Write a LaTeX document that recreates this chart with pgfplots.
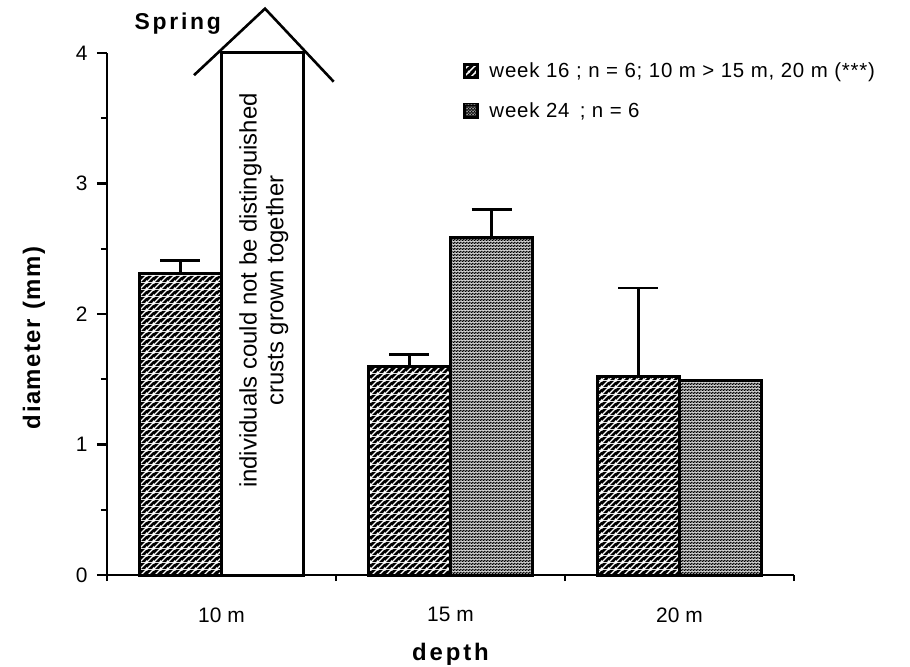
\documentclass[border=0pt]{standalone}
\usepackage{fontspec}
\setmainfont{Liberation Sans}
\newfontfamily\spacedfont[LetterSpace=12]{Liberation Sans}
\newfontfamily\ylabelfont[LetterSpace=6]{Liberation Sans}
\newfontfamily\legendfont[LetterSpace=4]{Liberation Sans}
\usepackage{pgfplots}
\pgfplotsset{compat=1.18}
\usetikzlibrary{patterns}

% black ground with white diagonal lines
\pgfdeclarepatterninherentlycolored{hatchBW}{\pgfpointorigin}{\pgfpoint{7bp}{7bp}}{\pgfpoint{7bp}{7bp}}{%
  \pgfsetfillcolor{black}%
  \pgfpathrectangle{\pgfpointorigin}{\pgfpoint{7bp}{7bp}}\pgfusepath{fill}%
  \pgfsetstrokecolor{white}\pgfsetlinewidth{1.5bp}%
  \pgfpathmoveto{\pgfpoint{-1bp}{-1bp}}\pgfpathlineto{\pgfpoint{8bp}{8bp}}%
  \pgfpathmoveto{\pgfpoint{-1bp}{6bp}}\pgfpathlineto{\pgfpoint{1bp}{8bp}}%
  \pgfpathmoveto{\pgfpoint{6bp}{-1bp}}\pgfpathlineto{\pgfpoint{8bp}{1bp}}%
  \pgfusepath{stroke}}
% grey ground with a fine black stipple
\pgfdeclarepatterninherentlycolored{stippleBW}{\pgfpointorigin}{\pgfpoint{3bp}{3bp}}{\pgfpoint{3bp}{3bp}}{%
  \pgfsetfillcolor{black!40}%
  \pgfpathrectangle{\pgfpointorigin}{\pgfpoint{3bp}{3bp}}\pgfusepath{fill}%
  \pgfsetfillcolor{black}%
  \pgfpathcircle{\pgfpoint{0.75bp}{0.75bp}}{0.95bp}%
  \pgfpathcircle{\pgfpoint{2.25bp}{2.25bp}}{0.95bp}%
  \pgfusepath{fill}}

\begin{document}
\begin{tikzpicture}
\begin{axis}[
  scale only axis, width=687bp, height=522bp,
  xmin=-0.5, xmax=2.5, ymin=0, ymax=4,
  clip=false,
  axis x line*=bottom, axis y line*=left,
  axis line style={line width=2.6bp},
  tick align=outside,
  major tick length=10bp, minor tick length=6bp,
  every tick/.style={black, line width=2.2bp},
  ytick={0,1,2,3,4}, minor ytick={0.5,1.5,2.5,3.5},
  xtick={0,1,2}, xticklabels={10 m,15 m,20 m},
  major x tick style={draw=none},
  minor xtick={-0.5,0.5,1.5,2.5},
  tick label style={font=\fontsize{21}{25}\selectfont},
  /pgf/number format/assume math mode=true,
  xticklabel style={yshift=-19bp},
  yticklabel style={xshift=-6bp},
  xlabel={\spacedfont\bfseries depth},
  ylabel={\ylabelfont\bfseries diameter\hspace{0.4em}(mm)},
  label style={font=\fontsize{24}{28}\selectfont},
  xlabel style={yshift=-14bp},
  ylabel style={yshift=24bp, xshift=-24bp},
  ybar, bar width=0.36,
  legend style={draw=none, fill=none, at={(0.518,0.985)}, anchor=north west,
    font=\legendfont\fontsize{20.5}{24}\selectfont, row sep=19bp, inner sep=0pt,
    /tikz/every odd column/.append style={column sep=9bp}},
  legend cell align=left,
]
\addlegendimage{legend image code/.code={
  \fill[black] (0bp,-7.5bp) rectangle (15bp,7.5bp);
  \fill[pattern=hatchBW] (2bp,-5.5bp) rectangle (13bp,5.5bp);}}
\addlegendimage{legend image code/.code={
  \fill[black] (0bp,-7.5bp) rectangle (15bp,7.5bp);
  \fill[pattern=stippleBW] (2bp,-5.5bp) rectangle (13bp,5.5bp);}}
\legend{{week 16 ; n = 6; 10 m > 15 m, 20 m (***)},{week 24\enspace; n = 6}}

% week 16
\addplot[bar shift=-0.18, pattern=hatchBW, draw=black, line width=3bp,
  error bars/.cd, y dir=plus, y explicit,
  error bar style={line width=2.6bp, black},
  error mark options={rotate=90, black, line width=2.6bp, mark size=20bp}]
  coordinates {(0,2.31) +- (0,0.10) (1,1.60) +- (0,0.09) (2,1.52) +- (0,0.68)};

% week 24
\addplot[bar shift=0.18, pattern=stippleBW, draw=black, line width=3bp]
  coordinates {(1,2.59) (2,1.49)};
\addplot[bar shift=0.18, draw=none, fill=none, forget plot,
  error bars/.cd, y dir=plus, y explicit,
  error bar style={line width=2.6bp, black},
  error mark options={rotate=90, black, line width=2.6bp, mark size=20bp}]
  coordinates {(1,2.59) +- (0,0.21)};

% 10 m, week 24: crusts grown together
\addplot[bar shift=0.18, fill=white, draw=black, line width=3bp, forget plot]
  coordinates {(0,4)};
\draw[line width=2.6bp] (axis cs:-0.12,3.83) -- (axis cs:0.19,4.34) -- (axis cs:0.49,3.78);
\node[rotate=90, align=center, font=\fontsize{24}{27}\selectfont]
  at (axis cs:0.185,2.18) {individuals could not be distinguished\\crusts grown together};

\node[font=\spacedfont\bfseries\fontsize{23}{27}\selectfont] at (axis description cs:0.103,1.057) {Spring};

\coordinate (o) at (rel axis cs:0,0);
\coordinate (t) at (rel axis cs:1,1);
\end{axis}
\pgfresetboundingbox
\path[use as bounding box] ([shift={(-107bp,-92bp)}]o) rectangle ([shift={(116bp,53bp)}]t);
\end{tikzpicture}
\end{document}
